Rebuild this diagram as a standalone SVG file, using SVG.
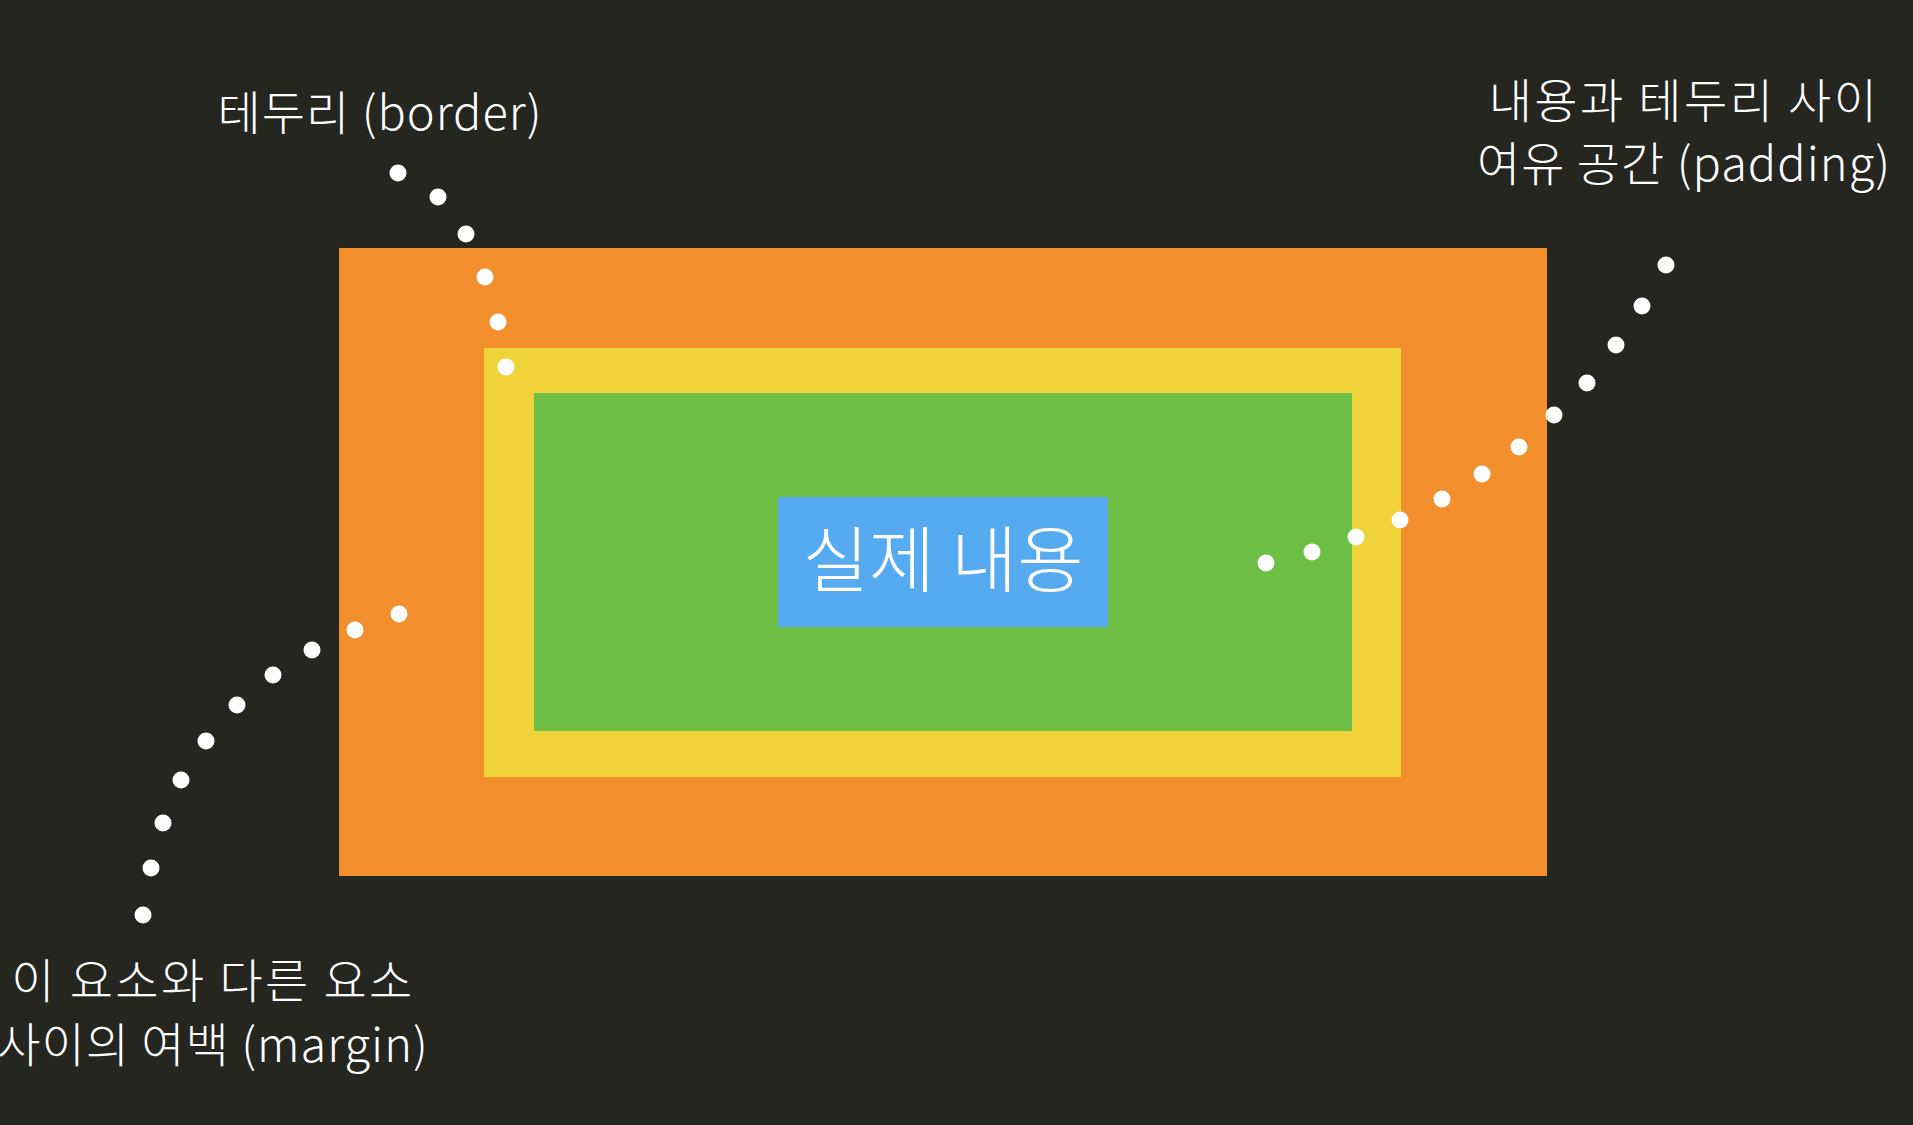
<svg xmlns="http://www.w3.org/2000/svg" width="1913" height="1125" viewBox="0 0 1913 1125">
  <style>
    .lbl { font-family: "Noto Sans CJK KR", "Noto Sans", sans-serif; fill: #FFFFFF; font-size: 47px; font-weight: 300; text-anchor: middle; }
    .wide { letter-spacing: 2.4px; }
    .mid { letter-spacing: 1px; }
    .content { font-family: "Noto Sans CJK KR", "Noto Sans", sans-serif; fill: #FFFFFF; font-size: 72px; font-weight: 300; text-anchor: middle; }
    .dot { fill: #FFFFFF; }
  </style>
  <rect x="0" y="0" width="1913" height="1125" fill="#262621"/>

  <g id="margin-box">
    <rect x="339" y="248" width="1208" height="628" fill="#F28F2C"/>
  </g>
  <g id="border-box">
    <rect x="484" y="348" width="917" height="429" fill="#F0D23A"/>
  </g>
  <g id="padding-box">
    <rect x="534" y="393" width="818" height="338" fill="#6EBF46"/>
  </g>
  <g id="content-box">
    <rect x="778" y="497" width="330" height="130" fill="#55AAF0"/>
    <text class="content" x="943" y="586">실제 내용</text>
  </g>

  <g id="connectors">
    <g id="border-pointer">
      <circle class="dot" cx="398" cy="173" r="8.5"/>
      <circle class="dot" cx="438" cy="197" r="8.5"/>
      <circle class="dot" cx="466" cy="234" r="8.5"/>
      <circle class="dot" cx="485" cy="277" r="8.5"/>
      <circle class="dot" cx="498" cy="322" r="8.5"/>
      <circle class="dot" cx="506" cy="367" r="8.5"/>
    </g>
    <g id="padding-pointer">
      <circle class="dot" cx="1666" cy="265" r="8.5"/>
      <circle class="dot" cx="1642" cy="306" r="8.5"/>
      <circle class="dot" cx="1616" cy="345" r="8.5"/>
      <circle class="dot" cx="1587" cy="383" r="8.5"/>
      <circle class="dot" cx="1554" cy="415" r="8.5"/>
      <circle class="dot" cx="1519" cy="447" r="8.5"/>
      <circle class="dot" cx="1482" cy="474" r="8.5"/>
      <circle class="dot" cx="1442" cy="499" r="8.5"/>
      <circle class="dot" cx="1400" cy="520" r="8.5"/>
      <circle class="dot" cx="1356" cy="537" r="8.5"/>
      <circle class="dot" cx="1312" cy="552" r="8.5"/>
      <circle class="dot" cx="1266" cy="563" r="8.5"/>
    </g>
    <g id="margin-pointer">
      <circle class="dot" cx="399" cy="614" r="8.5"/>
      <circle class="dot" cx="355" cy="630" r="8.5"/>
      <circle class="dot" cx="312" cy="650" r="8.5"/>
      <circle class="dot" cx="273" cy="675" r="8.5"/>
      <circle class="dot" cx="237" cy="705" r="8.5"/>
      <circle class="dot" cx="206" cy="741" r="8.5"/>
      <circle class="dot" cx="181" cy="780" r="8.5"/>
      <circle class="dot" cx="163" cy="823" r="8.5"/>
      <circle class="dot" cx="151" cy="868" r="8.5"/>
      <circle class="dot" cx="143" cy="915" r="8.5"/>
    </g>
  </g>

  <g id="label-border">
    <text class="lbl mid" x="380" y="130">테두리 (border)</text>
  </g>
  <g id="label-padding">
    <text class="lbl wide" x="1684" y="118">내용과 테두리 사이</text>
    <text class="lbl mid" x="1684" y="181">여유 공간 (padding)</text>
  </g>
  <g id="label-margin">
    <text class="lbl wide" x="213" y="998">이 요소와 다른 요소</text>
    <text class="lbl mid" x="213" y="1062">사이의 여백 (margin)</text>
  </g>
</svg>
